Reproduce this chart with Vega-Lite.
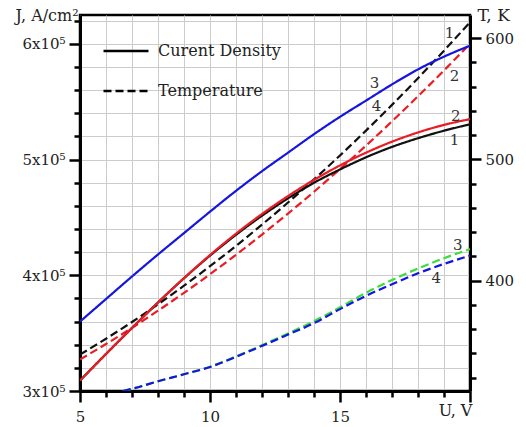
{
  "$schema": "https://vega.github.io/schema/vega-lite/v6.json",
  "width": 390,
  "height": 376,
  "autosize": {"type": "none"},
  "padding": {"left": 80, "top": 15, "right": 56, "bottom": 36},
  "background": "white",
  "config": {
    "view": {"stroke": "black", "strokeWidth": 2.5},
    "axis": {
      "labelFont": "DejaVu Serif",
      "labelFontSize": 15,
      "labelColor": "#222",
      "titleFont": "DejaVu Serif",
      "titleFontSize": 16,
      "titleFontWeight": "normal",
      "titleColor": "#222",
      "domainColor": "black",
      "domainWidth": 3,
      "tickColor": "black",
      "tickWidth": 2.5,
      "labelFlush": false,
      "labelOverlap": false,
      "gridColor": "#cccccc",
      "gridWidth": 1
    }
  },
  "datasets": {
    "cur": [
      {"U": 5, "J": 309000, "s": "1"}, {"U": 6, "J": 332000, "s": "1"}, {"U": 7, "J": 354500, "s": "1"}, {"U": 8, "J": 376500, "s": "1"},
      {"U": 9, "J": 397500, "s": "1"}, {"U": 10, "J": 417000, "s": "1"}, {"U": 11, "J": 435000, "s": "1"}, {"U": 12, "J": 451500, "s": "1"},
      {"U": 13, "J": 466500, "s": "1"}, {"U": 14, "J": 480000, "s": "1"}, {"U": 15, "J": 491500, "s": "1"}, {"U": 16, "J": 502000, "s": "1"},
      {"U": 17, "J": 511000, "s": "1"}, {"U": 18, "J": 518500, "s": "1"}, {"U": 19, "J": 525000, "s": "1"}, {"U": 20, "J": 530500, "s": "1"},
      {"U": 5, "J": 309000, "s": "2"}, {"U": 6, "J": 332000, "s": "2"}, {"U": 7, "J": 354500, "s": "2"}, {"U": 8, "J": 376500, "s": "2"},
      {"U": 9, "J": 397500, "s": "2"}, {"U": 10, "J": 417500, "s": "2"}, {"U": 11, "J": 436000, "s": "2"}, {"U": 12, "J": 453000, "s": "2"},
      {"U": 13, "J": 468500, "s": "2"}, {"U": 14, "J": 482500, "s": "2"}, {"U": 15, "J": 495000, "s": "2"}, {"U": 16, "J": 506000, "s": "2"},
      {"U": 17, "J": 515500, "s": "2"}, {"U": 18, "J": 523500, "s": "2"}, {"U": 19, "J": 530000, "s": "2"}, {"U": 20, "J": 535000, "s": "2"},
      {"U": 5, "J": 360000, "s": "34"}, {"U": 6, "J": 379500, "s": "34"}, {"U": 7, "J": 399000, "s": "34"}, {"U": 8, "J": 418000, "s": "34"},
      {"U": 9, "J": 436500, "s": "34"}, {"U": 10, "J": 455000, "s": "34"}, {"U": 11, "J": 473000, "s": "34"}, {"U": 12, "J": 490000, "s": "34"},
      {"U": 13, "J": 506000, "s": "34"}, {"U": 14, "J": 522000, "s": "34"}, {"U": 15, "J": 537000, "s": "34"}, {"U": 16, "J": 551000, "s": "34"},
      {"U": 17, "J": 565000, "s": "34"}, {"U": 18, "J": 578000, "s": "34"}, {"U": 19, "J": 589000, "s": "34"}, {"U": 20, "J": 598500, "s": "34"}
    ],
    "temp": [
      {"U": 6.65, "T": 309, "s": "3"}, {"U": 7, "T": 310.8, "s": "3"}, {"U": 8, "T": 317, "s": "3"}, {"U": 9, "T": 322.8, "s": "3"},
      {"U": 10, "T": 329, "s": "3"}, {"U": 11, "T": 337.5, "s": "3"}, {"U": 12, "T": 346.8, "s": "3"}, {"U": 13, "T": 356.5, "s": "3"},
      {"U": 14, "T": 366.6, "s": "3"}, {"U": 15, "T": 378, "s": "3"}, {"U": 16, "T": 390, "s": "3"}, {"U": 17, "T": 400.5, "s": "3"},
      {"U": 18, "T": 410, "s": "3"}, {"U": 19, "T": 418.5, "s": "3"}, {"U": 20, "T": 426, "s": "3"},
      {"U": 6.65, "T": 309, "s": "4"}, {"U": 7, "T": 310.8, "s": "4"}, {"U": 8, "T": 317, "s": "4"}, {"U": 9, "T": 322.8, "s": "4"},
      {"U": 10, "T": 328.8, "s": "4"}, {"U": 11, "T": 337.2, "s": "4"}, {"U": 12, "T": 346.2, "s": "4"}, {"U": 13, "T": 355.5, "s": "4"},
      {"U": 14, "T": 364.9, "s": "4"}, {"U": 15, "T": 376.5, "s": "4"}, {"U": 16, "T": 387.5, "s": "4"}, {"U": 17, "T": 397, "s": "4"},
      {"U": 18, "T": 406, "s": "4"}, {"U": 19, "T": 413.8, "s": "4"}, {"U": 20, "T": 420.6, "s": "4"},
      {"U": 5, "T": 335, "s": "2"}, {"U": 6, "T": 347.7, "s": "2"}, {"U": 7, "T": 361.1, "s": "2"}, {"U": 8, "T": 375.2, "s": "2"},
      {"U": 9, "T": 389.9, "s": "2"}, {"U": 10, "T": 405.3, "s": "2"}, {"U": 11, "T": 421.3, "s": "2"}, {"U": 12, "T": 438, "s": "2"},
      {"U": 13, "T": 455.3, "s": "2"}, {"U": 14, "T": 473.3, "s": "2"}, {"U": 15, "T": 492, "s": "2"}, {"U": 16, "T": 511.3, "s": "2"},
      {"U": 17, "T": 531.3, "s": "2"}, {"U": 18, "T": 552, "s": "2"}, {"U": 19, "T": 573.3, "s": "2"}, {"U": 20, "T": 595.2, "s": "2"},
      {"U": 5, "T": 339, "s": "1"}, {"U": 6, "T": 352.1, "s": "1"}, {"U": 7, "T": 365.9, "s": "1"}, {"U": 8, "T": 380.5, "s": "1"},
      {"U": 9, "T": 395.8, "s": "1"}, {"U": 10, "T": 411.9, "s": "1"}, {"U": 11, "T": 428.6, "s": "1"}, {"U": 12, "T": 446.2, "s": "1"},
      {"U": 13, "T": 464.4, "s": "1"}, {"U": 14, "T": 483.5, "s": "1"}, {"U": 15, "T": 503.2, "s": "1"}, {"U": 16, "T": 523.7, "s": "1"},
      {"U": 17, "T": 544.9, "s": "1"}, {"U": 18, "T": 566.9, "s": "1"}, {"U": 19, "T": 589.6, "s": "1"}, {"U": 20, "T": 613.1, "s": "1"}
    ],
    "curlab": [
      {"U": 16.33, "J": 566600, "txt": "3"},
      {"U": 16.4, "J": 546700, "txt": "4"},
      {"U": 19.45, "J": 538000, "txt": "2"},
      {"U": 19.4, "J": 517000, "txt": "1"}
    ],
    "templab": [
      {"U": 19.21, "T": 604.5, "txt": "1"},
      {"U": 19.4, "T": 569, "txt": "2"},
      {"U": 19.53, "T": 429.2, "txt": "3"},
      {"U": 18.7, "T": 401.8, "txt": "4"}
    ]
  },
  "layer": [
    {
      "layer": [
        {
          "data": {"name": "temp"},
          "mark": {"type": "line", "strokeWidth": 2.2, "clip": true, "interpolate": "monotone"},
          "encoding": {
            "x": {"field": "U", "type": "quantitative", "scale": {"domain": [5, 20], "nice": false, "zero": false},
              "axis": {
                "values": [5, 6, 7, 8, 9, 10, 11, 12, 13, 14, 15, 16, 17, 18, 19, 20],
                "tickCount": 30,
                "labelExpr": "datum.value % 5 == 0 && datum.value < 20 ? format(datum.value, 'd') : ''",
                "labelOverlap": false,
                "grid": true,
                "tickSize": {"condition": {"test": "datum.value % 5 == 0", "value": 11}, "value": 6},
                "labelPadding": 7,
                "title": "U, V",
                "titleX": 375, "titleY": 19, "titleAlign": "center", "titleBaseline": "middle", "titleAngle": 0
              }},
            "y": {"field": "T", "type": "quantitative", "scale": {"domain": [309, 619], "nice": false, "zero": false},
              "axis": {
                "orient": "right",
                "values": [320, 340, 360, 380, 400, 420, 440, 460, 480, 500, 520, 540, 560, 580, 600],
                "tickCount": 30,
                "labelExpr": "datum.value % 100 == 0 ? format(datum.value, 'd') : ''",
                "labelOverlap": false,
                "grid": false,
                "tickSize": {"condition": {"test": "datum.value % 100 == 0", "value": 11}, "value": 6},
                "labelPadding": 4,
                "title": "T, K",
                "titleFontSize": 17,
                "titleX": 7, "titleY": 0, "titleAlign": "left", "titleBaseline": "middle", "titleAngle": 0
              }},
            "detail": {"field": "s"},
            "color": {"field": "s", "type": "nominal", "legend": null,
              "scale": {"domain": ["1", "2", "3", "4", "34"], "range": ["#111111", "#ea1c24", "#3add3a", "#1515e0", "#1515e0"]}},
            "strokeDash": {"datum": "Temperature", "type": "nominal",
              "scale": {"domain": ["Curent Density", "Temperature"], "range": [[1, 0], [8, 4]]},
              "legend": {"orient": "none", "legendX": 22, "legendY": 12, "title": null,
                "symbolType": "stroke", "symbolSize": 2025, "symbolStrokeWidth": 2.5, "symbolStrokeColor": "black",
                "labelFont": "DejaVu Serif", "labelFontSize": 16, "labelColor": "#222", "labelOffset": 8, "rowPadding": 8}}
          }
        },
        {
          "data": {"name": "templab"},
          "mark": {"type": "text", "font": "DejaVu Serif", "fontSize": 15, "color": "#333"},
          "encoding": {
            "x": {"field": "U", "type": "quantitative"},
            "y": {"field": "T", "type": "quantitative"},
            "text": {"field": "txt"}
          }
        }
      ]
    },
    {
      "layer": [
        {
          "data": {"name": "cur"},
          "mark": {"type": "line", "strokeWidth": 2.2, "clip": true, "interpolate": "monotone"},
          "encoding": {
            "x": {"field": "U", "type": "quantitative"},
            "y": {"field": "J", "type": "quantitative", "scale": {"domain": [300000, 625000], "nice": false, "zero": false},
              "axis": {
                "orient": "left",
                "values": [300000, 320000, 340000, 360000, 380000, 400000, 420000, 440000, 460000, 480000, 500000, 520000, 540000, 560000, 580000, 600000, 620000],
                "tickCount": 30,
                "labelExpr": "datum.value % 100000 == 0 ? format(datum.value / 100000, 'd') + 'x10⁵' : ''",
                "labelOverlap": false,
                "grid": true,
                "tickSize": {"condition": {"test": "datum.value % 100000 == 0", "value": 11}, "value": 6},
                "labelPadding": 4,
                "title": "J, A/cm²",
                "titleX": -65, "titleY": 0, "titleAlign": "left", "titleBaseline": "middle", "titleAngle": 0
              }},
            "detail": {"field": "s"},
            "color": {"field": "s", "type": "nominal", "legend": null},
            "strokeDash": {"datum": "Curent Density", "type": "nominal"}
          }
        },
        {
          "data": {"name": "curlab"},
          "mark": {"type": "text", "font": "DejaVu Serif", "fontSize": 15, "color": "#333"},
          "encoding": {
            "x": {"field": "U", "type": "quantitative"},
            "y": {"field": "J", "type": "quantitative"},
            "text": {"field": "txt"}
          }
        }
      ]
    }
  ],
  "resolve": {"scale": {"y": "independent"}}
}
